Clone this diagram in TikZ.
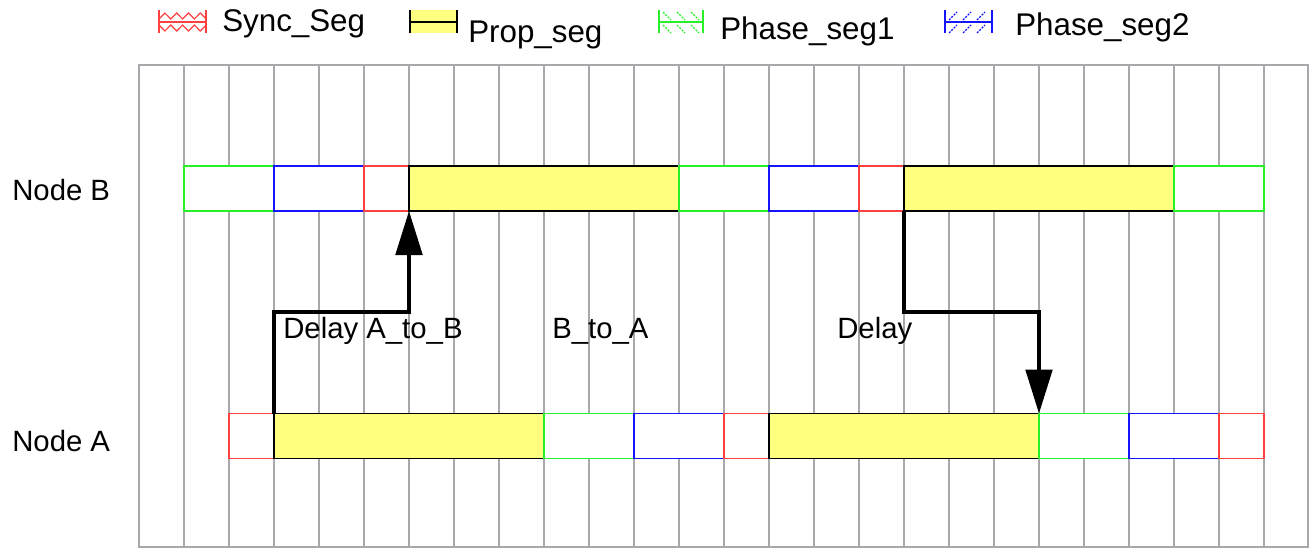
\documentclass[tikz,border=0pt]{standalone}
\usepackage{fontspec}
\setmainfont{Liberation Sans}
\usetikzlibrary{arrows.meta,positioning,calc}
\definecolor{syncR}{RGB}{255,64,64}
\definecolor{propY}{RGB}{255,255,128}
\definecolor{ph1G}{RGB}{40,240,40}
\definecolor{ph2B}{RGB}{20,20,255}
\definecolor{gridG}{RGB}{168,168,172}

\begin{document}
\begin{tikzpicture}[
  x=0.75pt, y=-0.75pt,
  seg/.style={draw, fill=white, line width=1.1pt, anchor=west, inner sep=0pt, outer sep=0pt, minimum height=33.75pt},
  sync/.style={seg, draw=syncR, minimum width=33.75pt},
  prop/.style={seg, draw=black, fill=propY, minimum width=6*33.75pt},
  ph1/.style={seg, draw=ph1G, minimum width=2*33.75pt},
  ph2/.style={seg, draw=ph2B, minimum width=2*33.75pt},
  lbl/.style={anchor=base west, font=\fontsize{22}{26}\selectfont, inner sep=0pt},
  leg/.style={lbl, font=\fontsize{23.5}{28}\selectfont},
  sig/.style={line width=2.4pt, -{Triangle[length=33pt,width=20pt]}},
  gridln/.style={gridG, line width=1.2pt},
  legln/.style={line width=1.3pt},
  hatch/.style={line width=0.9pt, dash pattern=on 1.5pt off 1pt}
]
\useasboundingbox (0,0) rectangle (1311,550);

% time quanta grid
\draw[gridln] (139,65) rectangle (1308,547);
\foreach \k in {1,...,25}
  \draw[gridln] ({139+45*\k},65) -- ({139+45*\k},547);

% legend
\draw[syncR, legln] (159,10) -- (159,33) (206,10) -- (206,33) (159,22) -- (206,22);
\draw[syncR, line width=0.9pt] (159,19) \foreach \i in {0,...,3} { -- ++(5.9,-6) -- ++(5.9,6) };
\draw[syncR, line width=0.9pt] (159,25) \foreach \i in {0,...,3} { -- ++(5.9,6) -- ++(5.9,-6) };
\node[leg] (lSync) at (222,31) {Sync\_Seg};

\fill[propY] (410,10) rectangle (457,33);
\draw[legln] (410,10) -- (410,33) (457,10) -- (457,33) (410,22) -- (457,22);
\node[leg] (lProp) at (468,42) {Prop\_seg};

\draw[ph1G, legln] (659,10) -- (659,33) (703,10) -- (703,33) (659,22) -- (703,22);
\foreach \x in {663,677,691}
  \draw[ph1G, hatch] (\x,12) -- ++(8,8) (\x,25) -- ++(8,8);
\node[leg] (lPh1) at (720,39) {Phase\_seg1};

\draw[ph2B, legln] (945,10) -- (945,33) (992,10) -- (992,33) (945,22) -- (992,22);
\foreach \x in {949,963,977}
  \draw[ph2B, hatch] (\x,20) -- ++(8,-8) (\x,33) -- ++(8,-8);
\node[leg] (lPh2) at (1015,35) {Phase\_seg2};

% node B bit timing
\node[lbl] (nB) at (12,200) {Node B};
\node[ph1] (bS1) at (184,188.5) {};
\node[ph2] (bS2) at (274,188.5) {};
\node[sync] (bS3) at (364,188.5) {};
\node[prop] (bS4) at (409,188.5) {};
\node[ph1] (bS5) at (679,188.5) {};
\node[ph2] (bS6) at (769,188.5) {};
\node[sync] (bS7) at (859,188.5) {};
\node[prop] (bS8) at (904,188.5) {};
\node[ph1] (bS9) at (1174,188.5) {};

% node A bit timing
\node[lbl] (nA) at (12,451) {Node A};
\node[sync] (aS1) at (229,436) {};
\node[prop] (aS2) at (274,436) {};
\node[ph1] (aS3) at (544,436) {};
\node[ph2] (aS4) at (634,436) {};
\node[sync] (aS5) at (724,436) {};
\node[prop] (aS6) at (769,436) {};
\node[ph1] (aS7) at (1039,436) {};
\node[ph2] (aS8) at (1129,436) {};
\node[sync] (aS9) at (1219,436) {};

% propagation delays
\coordinate (jAB) at (409,312);
\coordinate (jBA) at (1039,312);
\draw[sig] (aS2.north west) |- (jAB) -- (bS4.south west);
\draw[sig] (bS8.south west) |- (jBA) -- (aS6.north east);

\node[lbl] (dAB) at (283,338) {Delay A\_to\_B};
\node[lbl] (dBA) at (552,338) {B\_to\_A};
\node[lbl] (dly) at (837,338) {Delay};
\end{tikzpicture}
\end{document}
